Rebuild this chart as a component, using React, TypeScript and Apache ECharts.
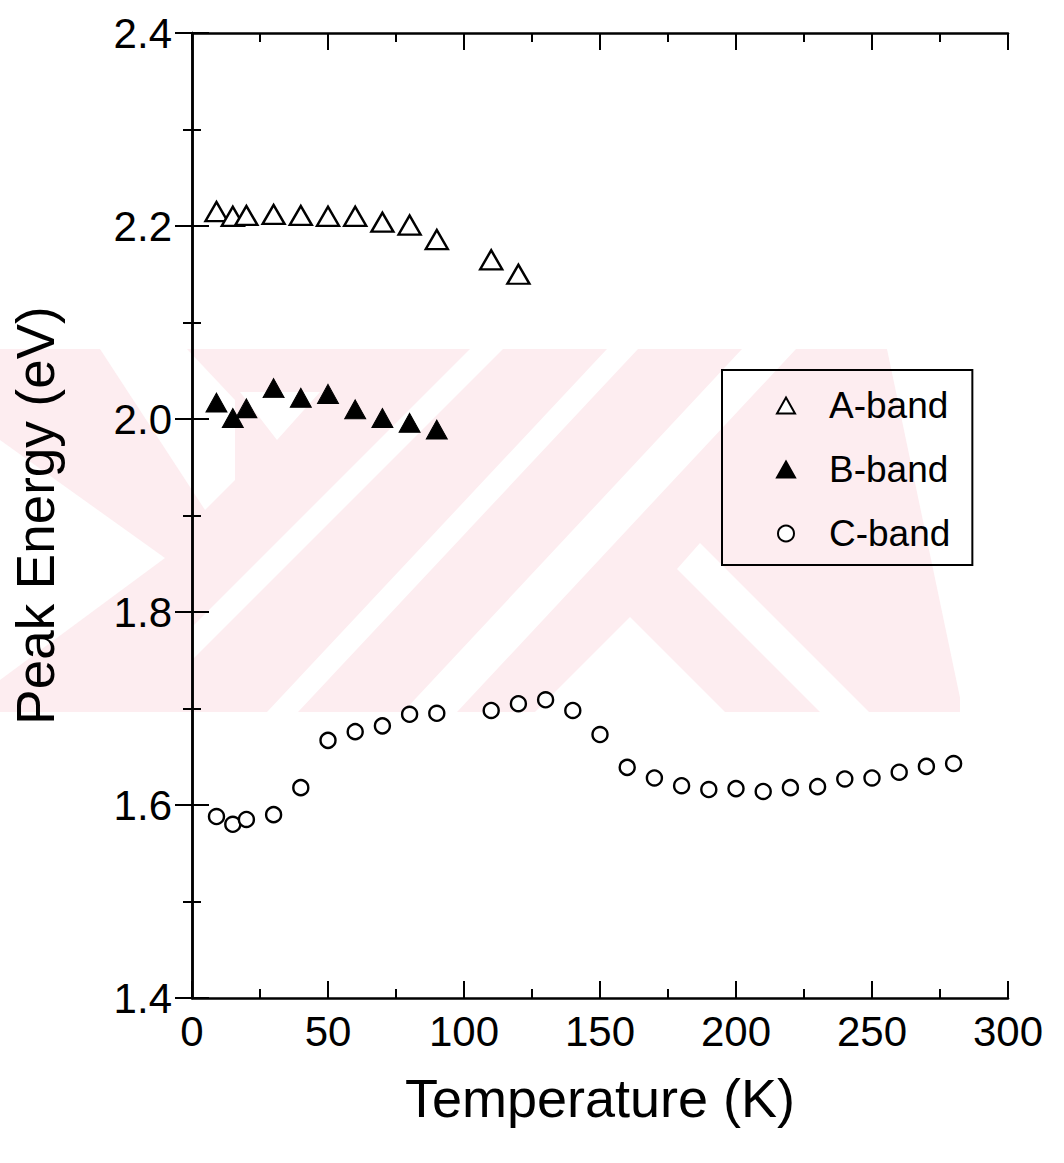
import React, { useEffect, useRef } from "react";
import * as echarts from "echarts";

// ---- data ----
const aTemps = [9, 15, 20, 30, 40, 50, 60, 70, 80, 90, 110, 120];
const aEnergy = [2.215, 2.21, 2.211, 2.212, 2.211, 2.21, 2.21, 2.204, 2.201, 2.186, 2.165, 2.15];

const bTemps = [9, 15, 20, 30, 40, 50, 60, 70, 80, 90];
const bEnergy = [2.017, 2.001, 2.011, 2.032, 2.022, 2.026, 2.01, 2.001, 1.996, 1.989];

const cTemps = [9, 15, 20, 30, 40, 50, 60, 70, 80, 90, 110, 120, 130, 140, 150, 160, 170, 180, 190, 200, 210, 220, 230, 240, 250, 260, 270, 280];
const cEnergy = [1.588, 1.58, 1.585, 1.59, 1.618, 1.667, 1.676, 1.682, 1.694, 1.695, 1.698, 1.705, 1.709, 1.698, 1.673, 1.639, 1.628, 1.62, 1.616, 1.617, 1.614, 1.618, 1.619, 1.627, 1.628, 1.634, 1.64, 1.643];

const seriesNames = ["A-band", "B-band", "C-band"];
const xTitle = "Temperature (K)";
const yTitle = "Peak Energy (eV)";

const FONT = "'Liberation Sans', Arial, Helvetica, sans-serif";
const PINK = "#fdedf0";

// faint background watermark (pink band with white diagonal cuts)
const wmWhite: number[][][] = [
  [[470, 349], [503, 349], [193, 659], [193, 626]],
  [[607, 349], [638, 349], [298, 712], [267, 712]],
  [[742, 349], [796, 349], [457, 712], [403, 712]],
  [[887, 349], [1000, 349], [1000, 712], [963, 712]],
  [[677, 569], [700, 543], [869, 712], [820, 712]],
  [[630, 617], [725, 712], [535, 712]],
  [[100, 349], [187, 349], [235, 400], [235, 480], [205, 510]],
  [[240, 392], [320, 392], [277, 440]],
  [[0, 440], [165, 558], [0, 680]],
];

function toPairs(xs: number[], ys: number[]) {
  return xs.map((x, i) => [x, ys[i]]);
}

export default function App() {
  const ref = useRef<HTMLDivElement>(null);

  useEffect(() => {
    if (!ref.current) return;
    const chart = echarts.init(ref.current, null, { renderer: "svg" });

    const axisLine = { show: true, lineStyle: { color: "#000", width: 2.5 } };
    const axisTick = { show: true, inside: true, length: 17, lineStyle: { color: "#000", width: 2 } };
    const minorTick = { show: true, splitNumber: 2, length: 9, lineStyle: { color: "#000", width: 2 } };

    const graphic: any[] = [
      {
        type: "rect",
        z: -10,
        silent: true,
        shape: { x: 0, y: 349, width: 960, height: 363 },
        style: { fill: PINK },
      },
      ...wmWhite.map((pts) => ({
        type: "polygon",
        z: -9,
        silent: true,
        shape: { points: pts },
        style: { fill: "#ffffff" },
      })),
    ];

    const option: any = {
      animation: false,
      backgroundColor: "#ffffff",
      graphic,
      grid: { left: 192, top: 33, right: 56, bottom: 165, containLabel: false },
      legend: {
        orient: "vertical",
        left: 722,
        top: 370,
        data: seriesNames,
        itemWidth: 18,
        itemHeight: 16,
        itemGap: 27,
        padding: [17, 22, 13, 54],
        borderColor: "#000",
        borderWidth: 2,
        backgroundColor: "transparent",
        itemStyle: { borderWidth: 2, opacity: 1 },
        textStyle: {
          fontFamily: FONT,
          fontSize: 37,
          lineHeight: 36,
          color: "#000",
          padding: [0, 0, 0, 29],
        },
      },
      xAxis: [
        {
          type: "value",
          position: "bottom",
          min: 0,
          max: 300,
          interval: 50,
          axisLine,
          axisTick,
          minorTick,
          splitLine: { show: false },
          axisLabel: { fontFamily: FONT, fontSize: 42, color: "#000", margin: 12 },
          name: xTitle,
          nameLocation: "middle",
          nameGap: 73,
          nameTextStyle: { fontFamily: FONT, fontSize: 54, color: "#000" },
        },
        {
          type: "value",
          position: "top",
          min: 0,
          max: 300,
          interval: 50,
          axisLine,
          axisTick,
          minorTick,
          splitLine: { show: false },
          axisLabel: { show: false },
        },
      ],
      yAxis: [
        {
          type: "value",
          position: "left",
          min: 1.4,
          max: 2.4,
          interval: 0.2,
          axisLine,
          axisTick,
          minorTick,
          splitLine: { show: false },
          axisLabel: {
            fontFamily: FONT,
            fontSize: 42,
            color: "#000",
            margin: 20,
            formatter: (v: number) => v.toFixed(1),
          },
          name: yTitle,
          nameLocation: "middle",
          nameGap: 130,
          nameTextStyle: { fontFamily: FONT, fontSize: 53, color: "#000" },
        },
        {
          type: "value",
          position: "right",
          min: 1.4,
          max: 2.4,
          interval: 0.2,
          axisLine,
          axisTick,
          minorTick,
          splitLine: { show: false },
          axisLabel: { show: false },
        },
      ],
      series: [
        {
          name: seriesNames[0],
          type: "scatter",
          symbol: "triangle",
          symbolSize: [22, 19],
          itemStyle: { color: "#ffffff", borderColor: "#000", borderWidth: 2.4, opacity: 1 },
          data: toPairs(aTemps, aEnergy),
          z: 3,
        },
        {
          name: seriesNames[1],
          type: "scatter",
          symbol: "triangle",
          symbolSize: [21, 19],
          itemStyle: { color: "#000", borderColor: "#000", borderWidth: 1, opacity: 1 },
          data: toPairs(bTemps, bEnergy),
          z: 3,
        },
        {
          name: seriesNames[2],
          type: "scatter",
          symbol: "circle",
          symbolSize: 15,
          itemStyle: { color: "#ffffff", borderColor: "#000", borderWidth: 2.4, opacity: 1 },
          data: toPairs(cTemps, cEnergy),
          z: 3,
        },
      ],
    };

    chart.setOption(option);
    return () => {
      chart.dispose();
    };
  }, []);

  return (
    <div
      ref={ref}
      style={{ position: "fixed", left: 0, top: 0, width: 1064, height: 1163, background: "#fff" }}
    />
  );
}
